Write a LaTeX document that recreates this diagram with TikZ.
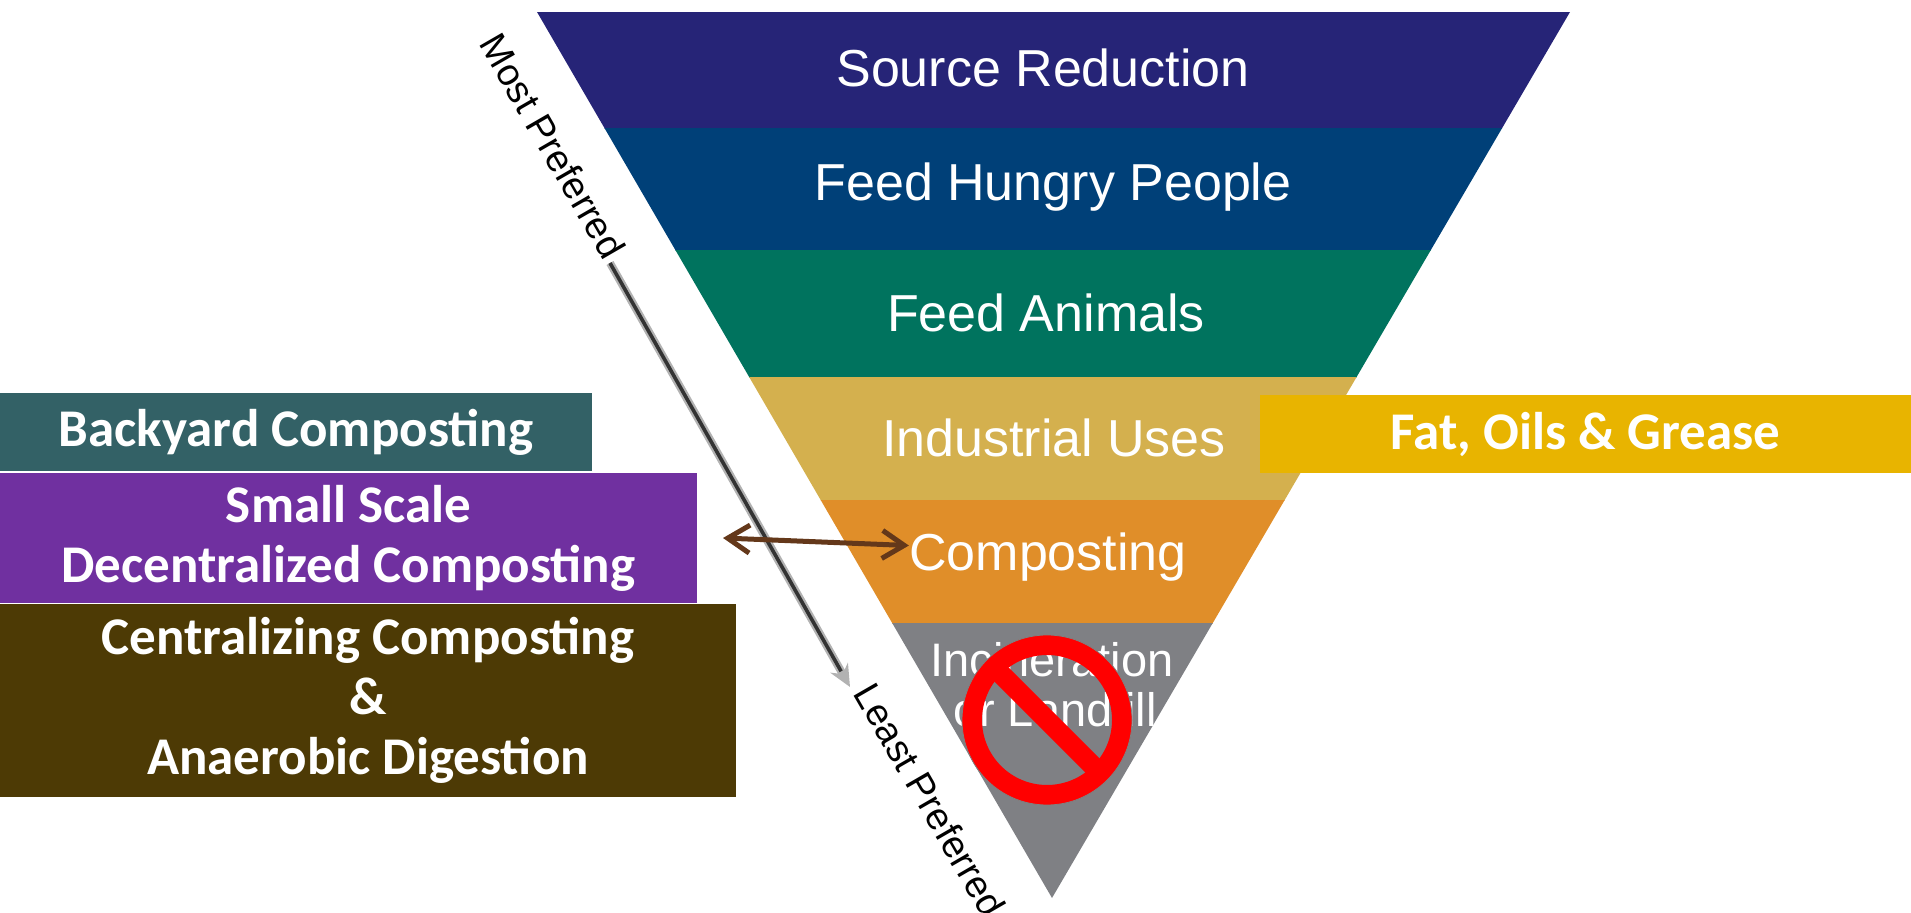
\documentclass[tikz,border=0pt]{standalone}
\usepackage{fontspec}
\setmainfont{Liberation Sans}
\newfontfamily\boxfont{Carlito}
\usetikzlibrary{arrows.meta}
\definecolor{srcred}{RGB}{38,36,119}
\definecolor{hungry}{RGB}{0,64,120}
\definecolor{animals}{RGB}{0,115,94}
\definecolor{industry}{RGB}{212,176,78}
\definecolor{compost}{RGB}{224,142,41}
\definecolor{landfill}{RGB}{127,128,132}
\definecolor{backyard}{RGB}{51,97,102}
\definecolor{smallscale}{RGB}{112,48,160}
\definecolor{central}{RGB}{77,58,5}
\definecolor{grease}{RGB}{232,180,0}
\definecolor{brownarr}{RGB}{100,56,26}
\begin{document}
\begin{tikzpicture}[x=0.5pt,y=-0.5pt,
    band/.style={text=white, anchor=base, inner sep=0pt, font=\fontsize{26}{26}\selectfont},
    sidebox/.style={anchor=north west, inner sep=0pt, outer sep=0pt, text=white, align=center,
        font=\boxfont\bfseries\fontsize{26.5}{30}\selectfont},
    pref/.style={rotate=-60, inner sep=0pt, font=\fontsize{19}{19}\selectfont},
    linkarr/.style={draw=brownarr, line width=2.5pt,
        {Straight Barb[length=11pt,width=14pt]}-{Straight Barb[length=11pt,width=14pt]}}]
    \useasboundingbox (0,0) rectangle (1911,913);

    % the hierarchy triangle
    \begin{scope}
        \clip (537,12) -- (1570,12) -- (1052,898) -- cycle;
        \fill[srcred] (520,12) rectangle (1590,129);
        \fill[hungry] (520,128) rectangle (1590,251);
        \fill[animals] (520,250) rectangle (1590,378);
        \fill[industry] (520,377) rectangle (1590,501);
        \fill[compost] (520,500) rectangle (1590,624);
        \fill[landfill] (520,623) rectangle (1590,900);
    \end{scope}

    \node[band] (source) at (1043,87) {Source Reduction};
    \node[band] (people) at (1053,201) {Feed Hungry People};
    \node[band] (animal) at (1046,332) {Feed Animals};
    \node[band] (uses) at (1054,457) {Industrial Uses};
    \node[band] (composting) at (1048,571) {Composting};
    \node[band, font=\fontsize{23.5}{23.5}\selectfont] (incin) at (1052,677) {Incineration};
    \node[band, font=\fontsize{23.5}{23.5}\selectfont] (landf) at (1055,726) {or Landfill};

    % no sign
    \draw[red, line width=10pt] (1047,720) circle[radius=37.5pt];
    \draw[red, line width=10pt] (1000,673) -- (1094,767);
    \draw[gray, line width=0.4pt] (1047,720) circle[radius=42.5pt];

    % side boxes
    \node[sidebox, fill=backyard, minimum width=296pt, minimum height=39pt] (back) at (0,393) {Backyard Composting};
    \node[sidebox, fill=smallscale, minimum width=348.5pt, minimum height=65pt] (small) at (0,473) {Small Scale\\Decentralized Composting};
    \node[sidebox, fill=central, minimum width=368pt, minimum height=96.5pt] (cent) at (0,604) {Centralizing Composting\\\&\\Anaerobic Digestion};
    \node[sidebox, fill=grease, minimum width=325.5pt, minimum height=39pt] (fog) at (1260,395) {Fat, Oils \& Grease};

    % preference arrow
    \coordinate (prefstart) at (610,263);
    \coordinate (prefend) at (850,687);
    \draw[line width=4pt, gray!60, -{Stealth[length=11pt,width=10pt]}] (prefstart) -- (prefend);
    \draw[line width=1.8pt, black!80, shorten >=9pt] (prefstart) -- (prefend);
    \node[pref] (most) at (553,146) {Most Preferred};
    \node[pref] (least) at (930,800) {Least Preferred};

    \draw[linkarr] ([xshift=13pt]small.east) -- ([yshift=6pt]composting.west);
\end{tikzpicture}
\end{document}
